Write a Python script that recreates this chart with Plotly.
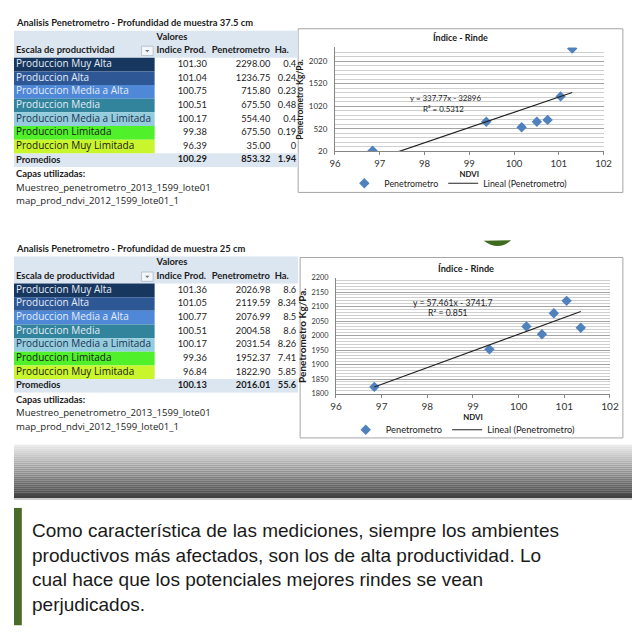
import numpy as np
import plotly.graph_objects as go

W = H = 640

# ---------------- data ----------------
categories = ["Produccion Muy Alta", "Produccion Alta", "Produccion Media a Alta",
              "Produccion Media", "Produccion Media a Limitada", "Produccion Limitada",
              "Produccion Muy Limitada"]
cat_fill = ["#17375e", "#2e5796", "#4f88d6", "#31849b", "#93cddd", "#50f02a", "#c9f52c"]
cat_font = ["#e4ecf7", "#e4ecf7", "#e4ecf7", "#e4ecf7", "#1f3050", "#1a1a1a", "#1a1a1a"]
header_labels = ["Escala de productividad", "Indice Prod.", "Penetrometro", "Ha."]
group_label = "Valores"
total_label = "Promedios"

t1_title = "Analisis Penetrometro - Profundidad de muestra 37.5 cm"
t1_indice = [101.30, 101.04, 100.75, 100.51, 100.17, 99.38, 96.39]
t1_pen = [2298.00, 1236.75, 715.80, 675.50, 554.40, 675.50, 35.00]
t1_ha = [0.4, 0.24, 0.23, 0.48, 0.4, 0.19, 0]
t1_prom = [100.29, 853.32, 1.94]

t2_title = "Analisis Penetrometro - Profundidad de muestra 25 cm"
t2_indice = [101.36, 101.05, 100.77, 100.51, 100.17, 99.36, 96.84]
t2_pen = [2026.98, 2119.59, 2076.99, 2004.58, 2031.54, 1952.37, 1822.90]
t2_ha = [8.6, 8.34, 8.5, 8.6, 8.26, 7.41, 5.85]
t2_prom = [100.13, 2016.01, 55.6]

capas = ["Capas utilizadas:", "Muestreo_penetrometro_2013_1599_lote01", "map_prod_ndvi_2012_1599_lote01_1"]

# chart points (NDVI as plotted in the charts)
c1_ndvi = [101.30, 101.04, 100.75, 100.51, 100.17, 99.38, 96.84]
c1_pen = t1_pen
c2_ndvi = t2_indice
c2_pen = t2_pen
chart_title = "Índice - Rinde"
x_title = "NDVI"
y_title = "Penetrometro Kg/Pa."
series_names = ["Penetrometro", "Lineal (Penetrometro)"]
c1_eq = ["y = 337.77x - 32896", "R² = 0.5312"]
c2_eq = ["y = 57.461x - 3741.7", "R² = 0.851"]
c1_yticks = [20, 520, 1020, 1520, 2020]
c2_yticks = [1800, 1850, 1900, 1950, 2000, 2050, 2100, 2150, 2200]
x_ticks = [96, 97, 98, 99, 100, 101, 102]

paragraph = ["Como característica de las mediciones, siempre los ambientes",
             "productivos más afectados, son los de alta productividad. Lo",
             "cual hace que los potenciales mejores rindes se vean",
             "perjudicados."]

# ---------------- helpers ----------------
# The page keeps the browser's 8px body margin, so the figure is photographed
# shifted by 8px; positions below are given in photo pixels and mapped here.
OFF = 8


def fx(p):
    return min(1.0, max(0.0, (p - OFF) / W))


def fy(p):
    return min(1.0, max(0.0, 1 - (p - OFF) / H))


LATO = "Lato, sans-serif"
OPEN = "Open Sans, sans-serif"
SANS = "Liberation Sans, Arial, sans-serif"
HEAD = "#dce6f1"
INK = "#1c1c1c"

fig = go.Figure()
annotations = []
shapes = []

ROW_H = 13.85
N_ROWS = 10
COL_EDGES = [8, 152, 214.7, 278.7, 299]
NUM_RIGHT = [205.5, 270.5, 297]
HEAD_LEFT = [10, 154, 210.5, 275]


def add_table(k, top, title, ind, pen, ha, prom):
    xa, ya = f"x{k}", f"y{k}"
    bottom = top + ROW_H * N_ROWS
    fig.layout[f"xaxis{k}"] = dict(domain=[fx(8), fx(300)], range=[8, 300], visible=False, fixedrange=True)
    fig.layout[f"yaxis{k}"] = dict(domain=[fy(bottom), fy(top)], range=[N_ROWS - 0.5, -0.5],
                                   visible=False, fixedrange=True)
    n = len(categories)
    cat_rows = list(range(2, 2 + n))
    prom_row = 2 + n
    full_w = COL_EDGES[-1] - COL_EDGES[0]
    bc = dict(xaxis=xa, yaxis=ya, orientation="h", showlegend=False, hoverinfo="skip")
    fig.add_trace(go.Bar(y=[0.5], x=[full_w], base=[COL_EDGES[0]], width=[2],
                         marker=dict(color=HEAD, line=dict(width=0)), **bc))
    fig.add_trace(go.Bar(y=[prom_row], x=[full_w], base=[COL_EDGES[0]], width=[1],
                         marker=dict(color=HEAD, line=dict(width=0)), **bc))
    fig.add_trace(go.Bar(y=cat_rows, x=[COL_EDGES[1] - COL_EDGES[0]] * n, base=[COL_EDGES[0]] * n,
                         width=[1] * n, marker=dict(color=cat_fill, line=dict(width=0)), **bc))
    tc = dict(xaxis=xa, yaxis=ya, mode="text", showlegend=False, hoverinfo="skip", cliponaxis=False)
    fig.add_trace(go.Scatter(x=[HEAD_LEFT[0]] * n, y=cat_rows, text=categories, textposition="middle right",
                             textfont=dict(family=OPEN, size=10, color=cat_font), **tc))
    cols = [[f"{v:.2f}" for v in ind], [f"{v:.2f}" for v in pen], [f"{v:g}" for v in ha]]
    proms = [f"{prom[0]:.2f}", f"{prom[1]:.2f}", f"{prom[2]:g}"]
    for j in range(3):
        fig.add_trace(go.Scatter(x=[NUM_RIGHT[j]] * (n + 1), y=cat_rows + [prom_row],
                                 text=cols[j] + [f"<b>{proms[j]}</b>"], textposition="middle left",
                                 textfont=dict(family=LATO, size=9.3, color=INK), **tc))
    fig.add_trace(go.Scatter(x=HEAD_LEFT + [HEAD_LEFT[1], HEAD_LEFT[0]], y=[1, 1, 1, 1, 0, prom_row],
                             text=[f"<b>{s}</b>" for s in header_labels + [group_label, total_label]],
                             textposition="middle right",
                             textfont=dict(family=LATO, size=9.4, color=INK), **tc))
    annotations.append(dict(text="<b>" + title + "</b>", x=fx(8), y=fy(top - 7.7), xref="paper", yref="paper",
                            xanchor="left", yanchor="middle", showarrow=False,
                            font=dict(family=LATO, size=9.4, color=INK)))
    for i, s in enumerate(capas):
        annotations.append(dict(text=("<b>" + s + "</b>") if i == 0 else s, x=fx(8),
                                y=fy(bottom - ROW_H / 2 + 13.7 * (i + 1)), xref="paper", yref="paper",
                                xanchor="left", yanchor="middle", showarrow=False,
                                font=dict(family=LATO if i == 0 else OPEN,
                                          size=9.4 if i == 0 else 9.6, color=INK)))
    shapes.append(dict(type="rect", xref="paper", yref="paper", x0=fx(138.5), x1=fx(150.5),
                       y0=fy(top + 25.5), y1=fy(top + 16), line=dict(color="#b9c3cf", width=1),
                       fillcolor="#f3f6fa"))
    shapes.append(dict(type="path", xref="paper", yref="paper",
                       path=f"M {fx(142.3)} {fy(top + 19.8)} L {fx(146.7)} {fy(top + 19.8)} "
                            f"L {fx(144.5)} {fy(top + 22)} Z",
                       fillcolor="#6b7480", line=dict(width=0)))


add_table(3, 26.7, t1_title, t1_indice, t1_pen, t1_ha, t1_prom)
add_table(4, 255.7, t2_title, t2_indice, t2_pen, t2_ha, t2_prom)

MARK = "#4f81bd"


def add_chart(k, box, plot, xs, ys, yr, yticks, ymdt, eq, eqpos, legend_y, sz):
    xa = "x" if k == 1 else f"x{k}"
    ya = "y" if k == 1 else f"y{k}"
    lg = "legend" if k == 1 else f"legend{k}"
    shapes.append(dict(type="rect", xref="paper", yref="paper", x0=fx(box[0]), x1=fx(box[2]),
                       y0=fy(box[3]), y1=fy(box[1]), line=dict(color="#a6a6a6", width=1),
                       fillcolor="white", layer="below"))
    fig.add_trace(go.Scatter(x=xs, y=ys, mode="markers", name=series_names[0], xaxis=xa, yaxis=ya,
                             legend=lg, marker=dict(symbol="diamond", size=8, color=MARK)))
    slope, icpt = np.polyfit(xs, ys, 1)
    lx = np.array([min(xs), max(xs)])
    fig.add_trace(go.Scatter(x=lx, y=slope * lx + icpt, mode="lines", name=series_names[1],
                             xaxis=xa, yaxis=ya, legend=lg, line=dict(color="#222222", width=1.2)))
    axis_common = dict(showline=True, linecolor="#868686", linewidth=1, zeroline=False, fixedrange=True)
    fig.layout[("xaxis" if k == 1 else f"xaxis{k}")] = dict(
        domain=[fx(plot[0]), fx(plot[2])], range=[96, 102], tickvals=x_ticks, showgrid=False,
        ticks="outside", ticklen=3, tickcolor="#868686", anchor=ya,
        tickfont=dict(family=LATO, size=sz["xt"], color="#333333"),
        title=dict(text=f"<b>{x_title}</b>", font=dict(family=LATO, size=sz["xtitle"], color=INK),
                   standoff=3),
        **axis_common)
    fig.layout[("yaxis" if k == 1 else f"yaxis{k}")] = dict(
        domain=[fy(plot[3]), fy(plot[1])], range=yr, tickvals=yticks, showgrid=True,
        gridcolor="#a3a3a3", gridwidth=1, anchor=xa, ticks="", ticklabelstandoff=5,
        tickfont=dict(family=LATO, size=sz["yt"], color="#333333"),
        minor=dict(dtick=ymdt, tick0=yr[0], showgrid=True, gridcolor="#cfcfcf", gridwidth=1),
        title=dict(text=f"<b>{y_title}</b>", font=dict(family=LATO, size=sz["ytitle"], color=INK),
                   standoff=3),
        **axis_common)
    fig.layout[lg] = dict(orientation="h", x=fx(sz["leg_x"]), xanchor="center",
                          y=fy(legend_y), yanchor="middle", bgcolor="rgba(0,0,0,0)",
                          font=dict(family=LATO, size=sz["leg"], color=INK), itemwidth=30,
                          tracegroupgap=0)
    annotations.append(dict(text=f"<b>{chart_title}</b>", x=fx(sz["title_xy"][0]), y=fy(sz["title_xy"][1]),
                            xref="paper", yref="paper", showarrow=False, xanchor="center", yanchor="middle",
                            font=dict(family=LATO, size=sz["title"], color=INK)))
    for s, (px_, py_) in zip(eq, eqpos):
        annotations.append(dict(text=s, x=fx(px_), y=fy(py_), xref="paper", yref="paper", showarrow=False,
                                xanchor="center", yanchor="middle",
                                font=dict(family=LATO, size=sz["eq"], color=INK)))


add_chart(1, (299, 25, 631.5, 191), (336.7, 44, 611.7, 149.3), c1_ndvi, c1_pen, [20, 2320], c1_yticks,
          100, c1_eq, [(450, 95), (448, 106)], 181.7,
          dict(xt=9.6, yt=8, xtitle=7.8, ytitle=8.5, leg=8.9, title=9, eq=7.9, title_xy=(465, 34),
               leg_x=463))
add_chart(2, (301, 257, 631.5, 440), (337.7, 277.3, 618.3, 395), c2_ndvi, c2_pen, [1800, 2200], c2_yticks,
          10, c2_eq, [(456.7, 303.3), (452.5, 313.3)], 431.7,
          dict(xt=10, yt=7.3, xtitle=7.8, ytitle=10, leg=9.3, title=9.2, eq=8.6, title_xy=(471, 268.3),
               leg_x=468))

# slide decoration: leaf sliver, gradient band, left accent bar
shapes.append(dict(type="path", xref="paper", yref="paper",
                   path=f"M {fx(489)} {fy(240)} L {fx(517)} {fy(239.5)} Q {fx(504)} {fy(251)} {fx(489)} {fy(240)} Z",
                   fillcolor="#3f6b1f", line=dict(width=0)))
top_c = np.array([232, 232, 232])
bot_c = np.array([66, 66, 66])
nb = 27
y0b, y1b = 447, 501
for i in range(nb):
    t = i / (nb - 1)
    c = (top_c + (bot_c - top_c) * t).astype(int)
    shapes.append(dict(type="rect", xref="paper", yref="paper", x0=0, x1=1,
                       y0=fy(y0b + (y1b - y0b) * (i + 1) / nb), y1=fy(y0b + (y1b - y0b) * i / nb),
                       fillcolor=f"rgb({c[0]},{c[1]},{c[2]})", line=dict(width=0)))
shapes.append(dict(type="rect", xref="paper", yref="paper", x0=0, x1=1, y0=fy(503), y1=fy(501),
                   fillcolor="#cfcfcf", line=dict(width=0)))
shapes.append(dict(type="rect", xref="paper", yref="paper", x0=fx(8), x1=fx(16), y0=fy(630), y1=fy(511),
                   fillcolor="#4a6b2a", line=dict(width=0)))
annotations.append(dict(text="<br>".join(paragraph), x=fx(24), y=fy(571), xref="paper", yref="paper",
                        xanchor="left", yanchor="middle", align="left", showarrow=False,
                        font=dict(family=SANS, size=19, color="#1a1a1a")))

fig.update_layout(width=W, height=H, margin=dict(l=0, r=0, t=0, b=0), paper_bgcolor="white",
                  plot_bgcolor="rgba(0,0,0,0)", showlegend=True, barmode="overlay",
                  shapes=shapes, annotations=annotations)

fig.write_html("out.html", config={"displayModeBar": False})
